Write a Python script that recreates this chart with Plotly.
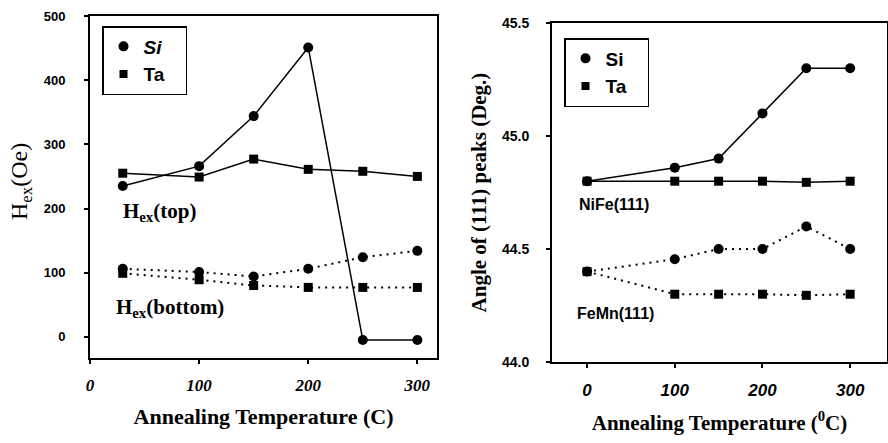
import plotly.graph_objects as go

# ---- data: left panel (exchange field) ----
temp_left = [30, 100, 150, 200, 250, 300]
si_top = [235, 266, 344, 451, -5, -5]
ta_top = [255, 249, 277, 261, 258, 250]
si_bottom = [106, 101, 94, 106, 124, 134]
ta_bottom = [99, 89, 80, 77, 77, 77]

# ---- data: right panel (peak angles) ----
temp_right = [0, 100, 150, 200, 250, 300]
si_nife = [44.80, 44.86, 44.90, 45.10, 45.30, 45.30]
ta_nife = [44.80, 44.80, 44.80, 44.80, 44.795, 44.80]
si_femn = [44.40, 44.455, 44.50, 44.50, 44.60, 44.50]
ta_femn = [44.40, 44.30, 44.30, 44.30, 44.295, 44.30]

left_xticks = [0, 100, 200, 300]
left_yticks = [0, 100, 200, 300, 400, 500]
right_xticks = [0, 100, 200, 300]
right_yticks = [44.0, 44.5, 45.0, 45.5]

W, H = 888, 443
BLACK = "black"
SERIF = "Liberation Serif"
SANS = "Liberation Sans"
PAD = "&nbsp;&nbsp;&nbsp;"

fig = go.Figure()

def add_series(x, y, symbol, dash, xa, ya):
    fig.add_trace(go.Scatter(
        x=x, y=y, mode="lines+markers", xaxis=xa, yaxis=ya,
        line=dict(color=BLACK, width=1.5 if dash == "solid" else 2,
                  dash="solid" if dash == "solid" else "2px,5px"),
        marker=dict(symbol=symbol, size=10 if symbol == "circle" else 9, color=BLACK),
        showlegend=False, hoverinfo="skip"))

add_series(temp_left, si_top, "circle", "solid", "x", "y")
add_series(temp_left, ta_top, "square", "solid", "x", "y")
add_series(temp_left, si_bottom, "circle", "dot", "x", "y")
add_series(temp_left, ta_bottom, "square", "dot", "x", "y")

add_series(temp_right, si_nife, "circle", "solid", "x2", "y2")
add_series(temp_right, ta_nife, "square", "solid", "x2", "y2")
add_series(temp_right, si_femn, "circle", "dot", "x2", "y2")
add_series(temp_right, ta_femn, "square", "dot", "x2", "y2")

# legend entries (marker only)
for name, sym, leg in [("<i>Si</i>" + PAD, "circle", "legend"), ("Ta" + PAD, "square", "legend"),
                       ("Si" + PAD, "circle", "legend2"), ("Ta" + PAD, "square", "legend2")]:
    fig.add_trace(go.Scatter(
        x=[None], y=[None], mode="markers", name=name, legend=leg,
        xaxis="x" if leg == "legend" else "x2", yaxis="y" if leg == "legend" else "y2",
        marker=dict(symbol=sym, size=10 if sym == "circle" else 8, color=BLACK)))

def px_x(p):
    return p / W

def px_y(p):
    return 1 - p / H

axis_common = dict(showline=True, linecolor=BLACK, linewidth=2, mirror=True,
                   ticks="outside", ticklen=4, tickcolor=BLACK, tickwidth=1.5,
                   showgrid=False, zeroline=False, automargin=False)

fig.update_layout(
    template="none",
    width=W, height=H,
    margin=dict(l=0, r=0, t=0, b=0, pad=0),
    paper_bgcolor="white", plot_bgcolor="white",
    xaxis=dict(domain=[px_x(90), px_x(437)], range=[0, 318], anchor="y",
               tickvals=left_xticks,
               tickfont=dict(family=SERIF, size=17, weight="bold", style="italic", color=BLACK),
               ticklabelstandoff=7,
               title=dict(text="Annealing Temperature (C)", standoff=14,
                          font=dict(family=SERIF, size=22, weight="bold", color=BLACK)),
               **axis_common),
    yaxis=dict(domain=[px_y(358), px_y(16)], range=[-33, 500], anchor="x",
               tickvals=left_yticks,
               tickfont=dict(family=SANS, size=13, weight="bold", color=BLACK),
               ticklabelstandoff=16,
               **axis_common),
    xaxis2=dict(domain=[px_x(552), px_x(887)], range=[-40, 342], anchor="y2",
                tickvals=right_xticks,
                tickfont=dict(family=SANS, size=17, weight="bold", style="italic", color=BLACK),
                ticklabelstandoff=8,
                title=dict(text="Annealing Temperature (<sup>0</sup>C)", standoff=16,
                           font=dict(family=SERIF, size=21, weight="bold", color=BLACK)),
                **axis_common),
    yaxis2=dict(domain=[px_y(362), px_y(23)], range=[44.0, 45.5], anchor="x2",
                tickvals=right_yticks, tickformat=".1f",
                tickfont=dict(family=SANS, size=14, weight="bold", color=BLACK),
                ticklabelstandoff=14,
                title=dict(text="Angle of (111) peaks (Deg.)", standoff=10,
                           font=dict(family=SERIF, size=21, weight="bold", color=BLACK)),
                **axis_common),
    legend=dict(x=px_x(102), y=px_y(26), xanchor="left", yanchor="top",
                bgcolor="white", bordercolor=BLACK, borderwidth=1.5,
                font=dict(family=SANS, size=19, weight="bold", color=BLACK),
                tracegroupgap=0, itemwidth=30),
    legend2=dict(x=px_x(564), y=px_y(38), xanchor="left", yanchor="top",
                 bgcolor="white", bordercolor=BLACK, borderwidth=1.5,
                 font=dict(family=SANS, size=19, weight="bold", color=BLACK),
                 tracegroupgap=0, itemwidth=30),
)

# left y-axis title placed as rotated text
fig.add_annotation(x=px_x(21), y=px_y(182), xref="paper", yref="paper",
                   xanchor="center", yanchor="middle", textangle=-90,
                   text="H<sub>ex</sub>(Oe)", showarrow=False,
                   font=dict(family=SERIF, size=24, color=BLACK))

# in-plot labels
fig.add_annotation(x=28, y=195, xref="x", yref="y", xanchor="left", yanchor="middle",
                   text="H<sub>ex</sub>(top)", showarrow=False,
                   font=dict(family=SERIF, size=21, weight="bold", color=BLACK))
fig.add_annotation(x=22, y=45, xref="x", yref="y", xanchor="left", yanchor="middle",
                   text="H<sub>ex</sub>(bottom)", showarrow=False,
                   font=dict(family=SERIF, size=21, weight="bold", color=BLACK))
fig.add_annotation(x=-12, y=44.695, xref="x2", yref="y2", xanchor="left", yanchor="middle",
                   text="NiFe(111)", showarrow=False,
                   font=dict(family=SANS, size=16, weight="bold", color=BLACK))
fig.add_annotation(x=-14, y=44.215, xref="x2", yref="y2", xanchor="left", yanchor="middle",
                   text="FeMn(111)", showarrow=False,
                   font=dict(family=SANS, size=16, weight="bold", color=BLACK))

fig.write_html("out.html", config={"displayModeBar": False},
               post_script="document.body.style.margin='0';document.body.style.overflow='hidden';")
